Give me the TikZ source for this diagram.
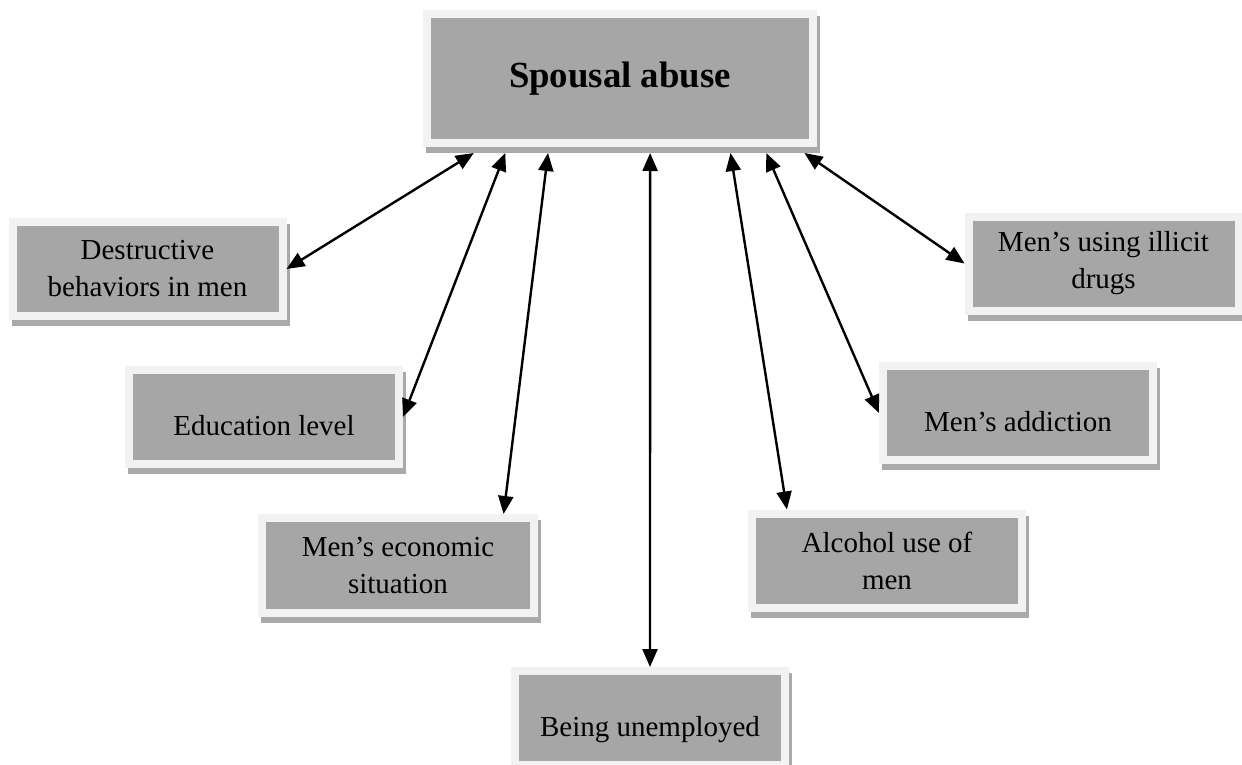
\documentclass[tikz,border=0pt]{standalone}
\usepackage{fontspec}
\setmainfont{Liberation Serif}
\usepackage{tikz}
\usetikzlibrary{shadows,arrows.meta}
\definecolor{boxfill}{HTML}{A6A6A6}
\definecolor{boxframe}{HTML}{F2F2F2}
\definecolor{boxshadow}{HTML}{A9A9A9}

\begin{document}
\begin{tikzpicture}[x=0.5pt,y=-0.5pt,>={Triangle[length=9pt,width=7.5pt]},
    box/.style={rectangle,fill=boxfill,draw=boxframe,line width=4pt,
      drop shadow={shadow xshift=1.5pt,shadow yshift=-3pt,opacity=1,
        fill=boxshadow,draw=boxshadow,line width=4pt}},
    factor/.style={box,minimum width=135pt,minimum height=47pt,align=center,
      font=\fontsize{14.5}{18.5}\selectfont},
    oneline/.style={text height=18.5pt,text depth=0pt}]
  \useasboundingbox (0,0) rectangle (1242,765);
  \node[box,minimum width=193pt,minimum height=64.5pt,outer sep=5pt,
    font=\fontsize{18.4}{22}\selectfont\bfseries] (abuse) at (620,78.5) {Spousal abuse};
  \node[factor] (destr) at (147.5,269) {Destructive\\behaviors in men};
  \node[factor,oneline] (educ) at (264,417) {Education level};
  \node[factor,minimum width=136pt,minimum height=47.5pt] (econ) at (398,565.5) {Men’s economic\\situation};
  \node[factor,oneline] (unemp) at (650,718) {Being unemployed};
  \node[factor] (alco) at (887,560.5) {Alcohol use of\\men};
  \node[factor,oneline] (addic) at (1018,413) {Men’s addiction};
  \node[factor] (drugs) at (1103.5,263.5) {Men’s using illicit\\drugs};
  \path[<->,line width=1.2pt]
    (abuse.-153) edge (destr.east)
    (abuse.-147) edge (educ.east)
    (abuse.-134) edge (econ.26)
    (abuse.-68) edge (unemp.north)
    (abuse.-34) edge (alco.153)
    (abuse.-27) edge (addic.west)
    (abuse.-22) edge (drugs.west);
\end{tikzpicture}
\end{document}
